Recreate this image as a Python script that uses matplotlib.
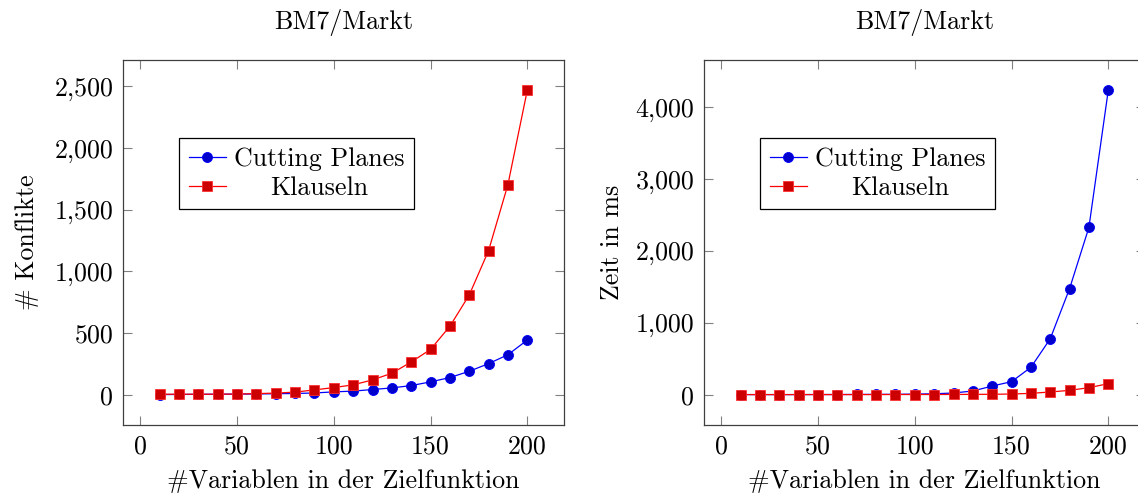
import matplotlib
matplotlib.use("Agg")
import matplotlib.pyplot as plt
from matplotlib.ticker import FuncFormatter, MultipleLocator

# ---- data ----
n_vars = [10, 20, 30, 40, 50, 60, 70, 80, 90, 100,
          110, 120, 130, 140, 150, 160, 170, 180, 190, 200]

konflikte_cp = [2, 3, 4, 5, 6, 7, 9, 11, 15, 24,
                30, 43, 56, 75, 105, 140, 191, 253, 325, 444]
konflikte_kl = [5, 5, 5, 5, 6, 10, 14, 22, 40, 59,
                81, 121, 175, 266, 368, 556, 809, 1169, 1704, 2468]

zeit_cp = [1, 1, 1, 1, 2, 2, 3, 4, 5, 8,
           12, 23, 51, 120, 181, 380, 778, 1476, 2329, 4236]
zeit_kl = [1, 1, 1, 1, 1, 1, 1, 1, 2, 2,
           2, 3, 4, 5, 9, 18, 37, 60, 97, 153]

title = "BM7/Markt"
xlabel = "#Variablen in der Zielfunktion"
ylabels = ["# Konflikte", "Zeit in ms"]
legend_labels = ["Cutting Planes", "Klauseln"]

# ---- style ----
FS = 18.7
plt.rcParams["font.family"] = ["cmr10", "DejaVu Serif"]
plt.rcParams["axes.formatter.use_mathtext"] = True
plt.rcParams["font.size"] = FS

fig = plt.figure(figsize=(11.38, 4.97), dpi=100)
W, H = 1138, 497

def make_axes(x0px):
    return fig.add_axes([x0px / W, 1 - 425 / H, 441 / W, 365 / H])

ax1 = make_axes(123)
ax2 = make_axes(704)

def enlarge(vals, frac=0.1):
    lo, hi = min(vals), max(vals)
    r = hi - lo
    return lo - frac * r, hi + frac * r

def style(ax, ys, ymajor, ylabel, ylpad):
    cp, kl = ys
    ax.plot(n_vars, cp, color="#0000ff", lw=0.9, marker="o", ms=7.2,
            mfc="#0000cc", mec="#0000ff", mew=0.6, label=legend_labels[0])
    ax.plot(n_vars, kl, color="#ff0000", lw=0.9, marker="s", ms=7.2,
            mfc="#cc0000", mec="#ff3030", mew=0.6, label=legend_labels[1])
    ax.set_xlim(*enlarge(n_vars))
    ax.set_ylim(*enlarge(cp + kl))
    ax.xaxis.set_major_locator(MultipleLocator(50))
    ax.yaxis.set_major_locator(MultipleLocator(ymajor))
    ax.yaxis.set_major_formatter(FuncFormatter(lambda v, p: f"{v:,.0f}"))
    ax.xaxis.set_major_formatter(FuncFormatter(lambda v, p: f"{v:.0f}"))
    ax.tick_params(direction="in", length=6.3, width=0.8, color="#808080",
                   top=True, right=True, labelsize=FS, pad=7)
    for s in ax.spines.values():
        s.set_color("#404040")
        s.set_linewidth(0.9)
    ax.set_title(title, fontsize=FS, pad=22)
    ax.set_xlabel(xlabel, fontsize=FS, labelpad=8)
    ax.set_ylabel(ylabel, fontsize=FS, labelpad=ylpad)
    leg = ax.legend(loc="upper left", bbox_to_anchor=(0.128, 0.786),
                    borderaxespad=0, fancybox=False, framealpha=1,
                    edgecolor="black", fontsize=FS, handlelength=1.45,
                    handletextpad=0.3, borderpad=0.35, labelspacing=0.22)
    leg.get_frame().set_linewidth(0.9)
    return leg

leg1 = style(ax1, (konflikte_cp, konflikte_kl), 500, ylabels[0], 11)
leg2 = style(ax2, (zeit_cp, zeit_kl), 1000, ylabels[1], 8)

# centre legend labels within the legend column (like pgfplots)
fig.canvas.draw()
r = fig.canvas.get_renderer()
for leg in (leg1, leg2):
    texts = leg.get_texts()
    widths = [t.get_window_extent(r).width for t in texts]
    wmax = max(widths)
    for t, w in zip(texts, widths):
        t.set_position(((wmax - w) / 2, 0))

fig.savefig("out.png", dpi=100)
